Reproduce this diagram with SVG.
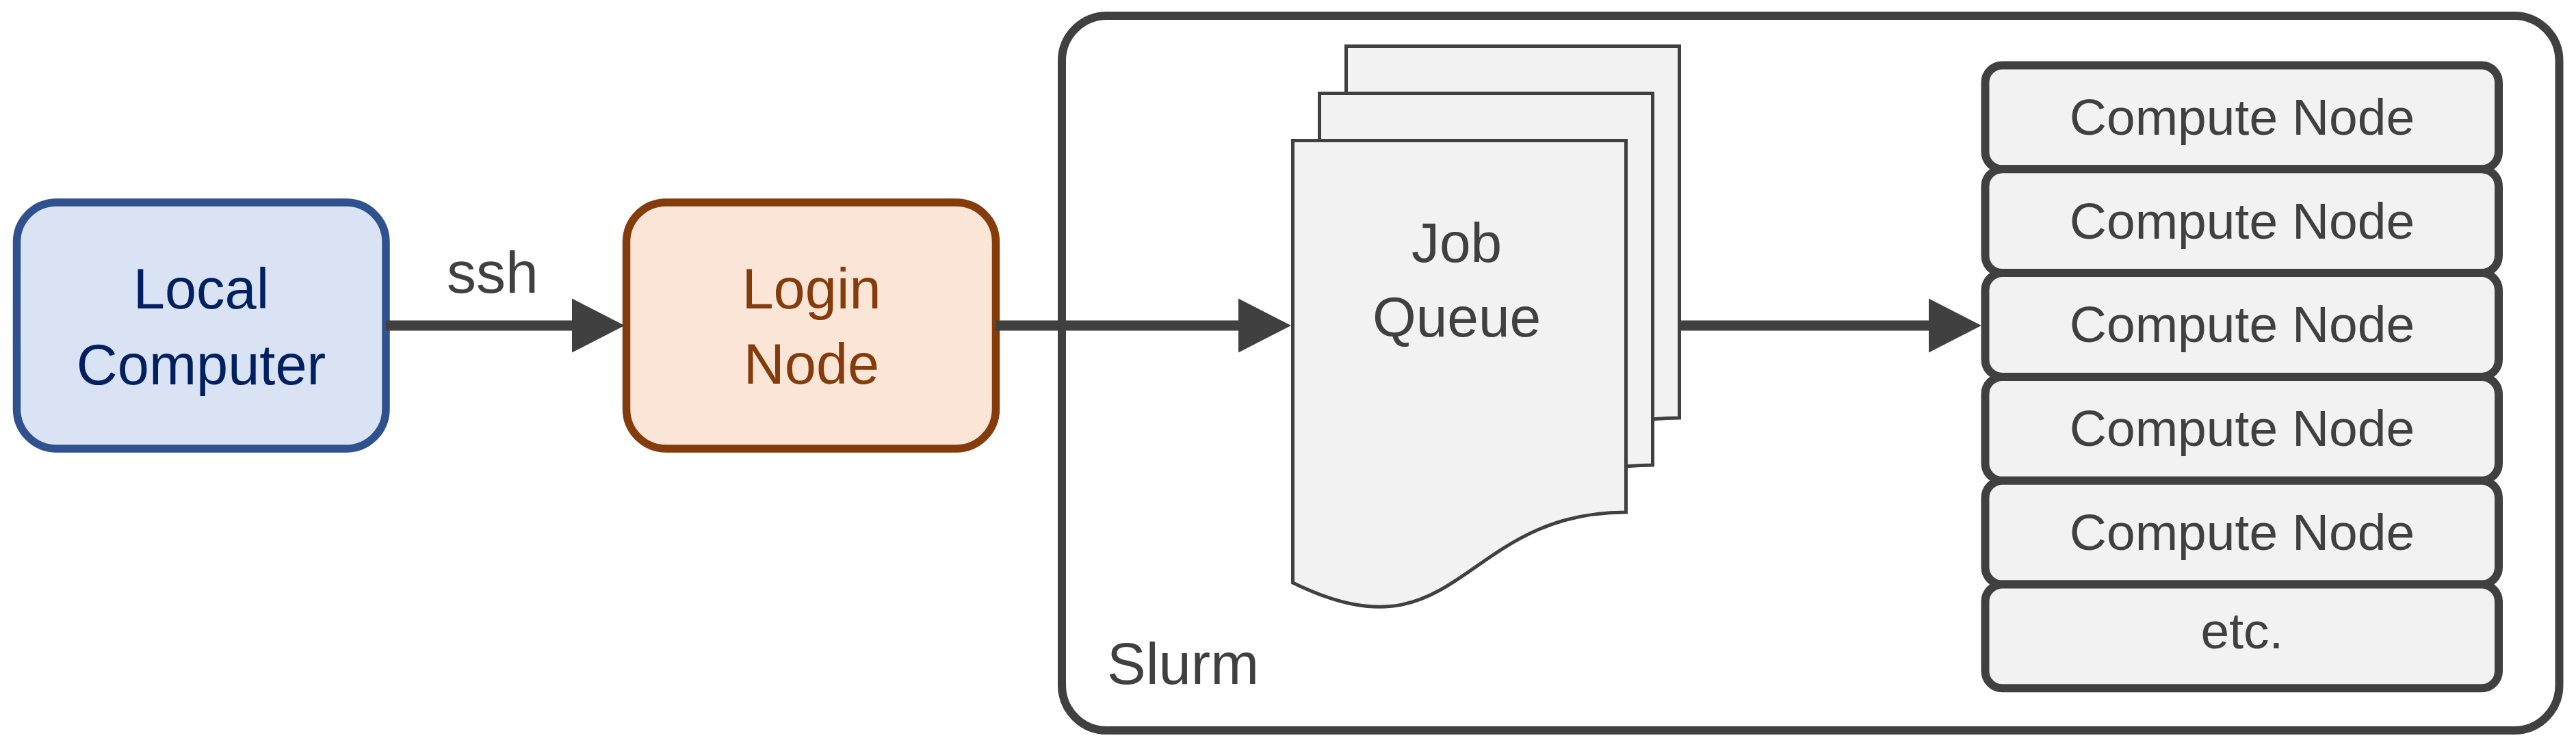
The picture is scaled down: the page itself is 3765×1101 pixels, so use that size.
<svg xmlns="http://www.w3.org/2000/svg" width="3765" height="1101" viewBox="0 0 3765 1101">
<style>
text { font-family: "Liberation Sans", Arial, sans-serif; }
.gray { fill: #404040; }
.cn rect { fill: #F2F2F2; stroke: #404040; stroke-width: 12; }
.cn text { font-size: 75px; text-anchor: middle; fill: #404040; }
.doc { fill: #F2F2F2; stroke: #404040; stroke-width: 5; stroke-linejoin: miter; }
.conn { stroke: #404040; stroke-width: 15; fill: none; marker-end: url(#arrow); }
</style>
<defs>
<marker id="arrow" markerUnits="userSpaceOnUse" markerWidth="80" markerHeight="80" refX="0" refY="39.5" orient="auto" overflow="visible">
<path d="M0,0 L77,39.5 L0,79 Z" fill="#404040"/>
</marker>
<path id="docshape" d="M0,0 H487 V543.5 C243.5,543.5 243.5,766 0,646.5 Z"/>
</defs>
<rect width="3765" height="1101" fill="#FFFFFF"/>

<g id="slurm">
<rect x="1552" y="23" width="2188.5" height="1045" rx="66" ry="66" fill="#FFFFFF" stroke="#404040" stroke-width="12"/>
<text x="1618" y="1000" font-size="85" fill="#404040">Slurm</text>
</g>

<g id="local-computer">
<rect x="24.5" y="296" width="539.5" height="360" rx="58" ry="58" fill="#DAE3F3" stroke="#2F528F" stroke-width="11.5"/>
<text x="294" y="451" font-size="83" text-anchor="middle" fill="#002060">Local</text>
<text x="294" y="562" font-size="83" text-anchor="middle" fill="#002060">Computer</text>
</g>

<g id="login-node">
<rect x="915.5" y="296" width="540" height="360" rx="58" ry="58" fill="#FBE5D6" stroke="#843C0C" stroke-width="11.5"/>
<text x="1186" y="451" font-size="83" text-anchor="middle" fill="#843C0C">Login</text>
<text x="1186" y="561" font-size="83" text-anchor="middle" fill="#843C0C">Node</text>
</g>

<g id="job-queue">
<use href="#docshape" class="doc" transform="translate(1967.5,67.5)"/>
<use href="#docshape" class="doc" transform="translate(1928.5,136.5)"/>
<use href="#docshape" class="doc" transform="translate(1889.5,205.5)"/>
<text x="2129" y="383" font-size="82" text-anchor="middle" fill="#404040">Job</text>
<text x="2129" y="492" font-size="82" text-anchor="middle" fill="#404040">Queue</text>
</g>

<g id="compute-nodes" class="cn">
<g id="compute-node-1"><rect x="2901.5" y="95.5" width="750.5" height="151.8" rx="25" ry="25"/><text x="3277" y="196.5">Compute Node</text></g>
<g id="compute-node-2"><rect x="2901.5" y="247.3" width="750.5" height="151.8" rx="25" ry="25"/><text x="3277" y="348.5">Compute Node</text></g>
<g id="compute-node-3"><rect x="2901.5" y="399.1" width="750.5" height="151.8" rx="25" ry="25"/><text x="3277" y="500">Compute Node</text></g>
<g id="compute-node-4"><rect x="2901.5" y="550.9" width="750.5" height="151.8" rx="25" ry="25"/><text x="3277" y="652">Compute Node</text></g>
<g id="compute-node-5"><rect x="2901.5" y="702.7" width="750.5" height="151.8" rx="25" ry="25"/><text x="3277" y="804">Compute Node</text></g>
<g id="etc"><rect x="2901.5" y="854.5" width="750.5" height="151.8" rx="25" ry="25"/><text x="3277" y="948">etc.</text></g>
</g>

<g id="connectors">
<path class="conn" d="M564,476 H836"/>
<text x="720" y="427.5" font-size="86" text-anchor="middle" fill="#404040">ssh</text>
<path class="conn" d="M1455.5,476 H1810"/>
<path class="conn" d="M2454.5,476 H2819"/>
</g>
</svg>
